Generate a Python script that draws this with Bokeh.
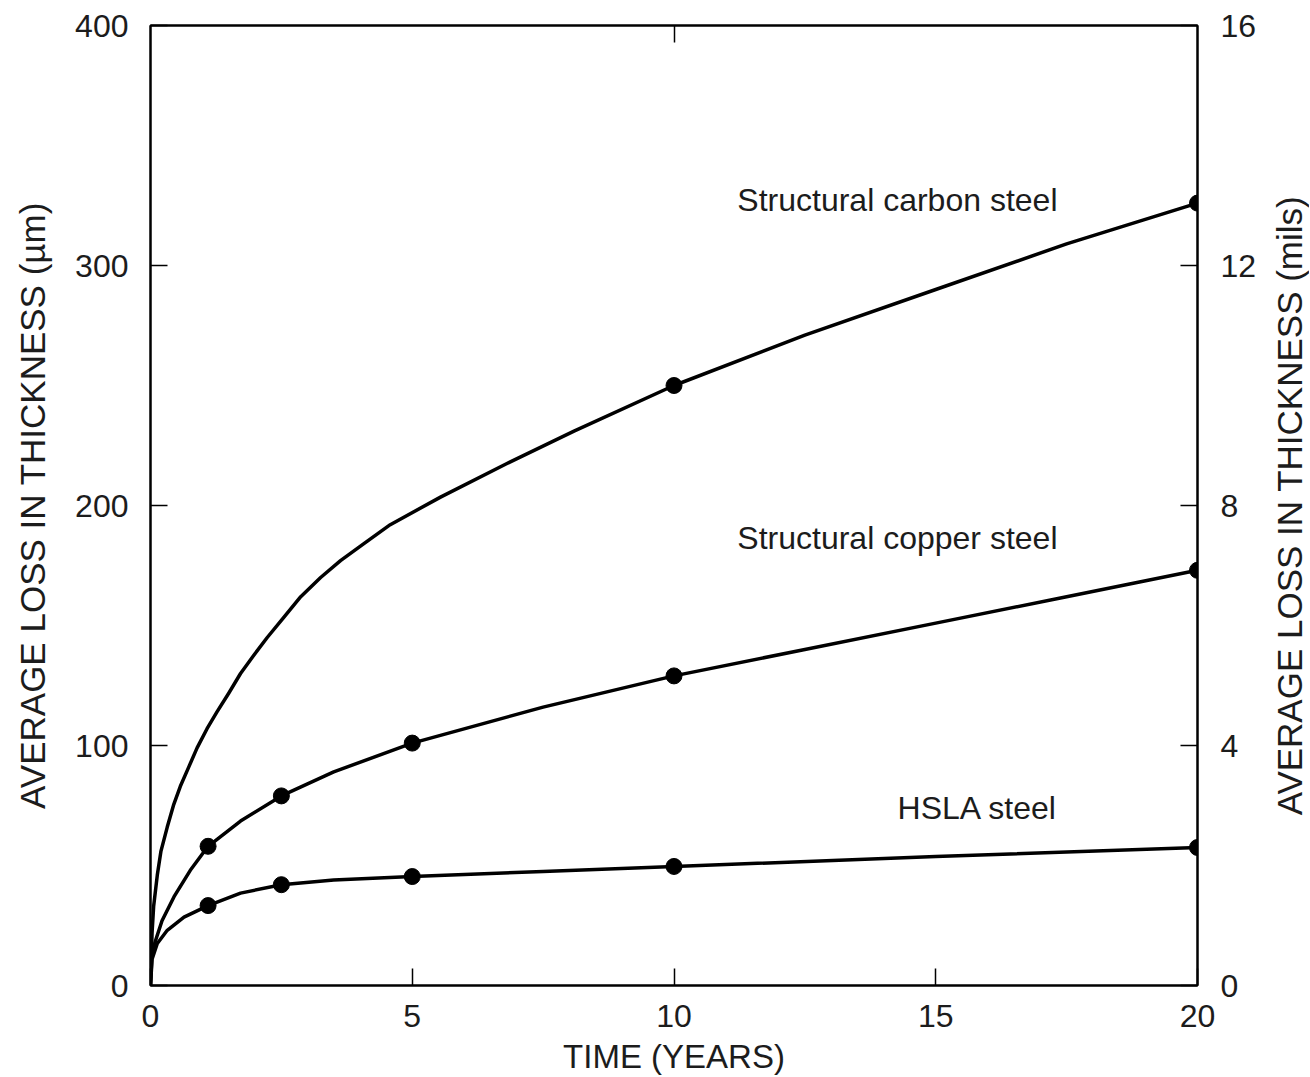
from math import pi
from bokeh.plotting import figure
from bokeh.layouts import row
from bokeh.models import Range1d, LinearAxis, FixedTicker, Label
from bokeh.core.properties import value
from bokeh.embed import file_html
from bokeh.resources import INLINE

# ---- data ----
# smooth curves (time in years, loss in micrometres)
carbon_t = [0, 0.03, 0.06, 0.13, 0.2, 0.32, 0.445, 0.57, 0.73, 0.89, 1.08, 1.27,
            1.5, 1.72, 1.97, 2.23, 2.55, 2.87, 3.25, 3.63, 4.07, 4.58, 5.54, 6.8,
            8.09, 10, 12.5, 15, 17.5, 20]
carbon_v = [0, 22, 33, 46, 56, 66, 75.5, 83, 91, 99, 107, 114,
            122, 130, 137.5, 145, 153.5, 162, 170, 177, 184, 192, 203.5, 217.4,
            231, 250, 271, 290, 309, 326]

copper_t = [0, 0.03, 0.1, 0.22, 0.45, 0.76, 1.1, 1.72, 2.5, 3.5, 5, 7.5,
            10, 12.5, 15, 17.5, 20]
copper_v = [0, 14, 19, 27, 37, 48, 58, 68.5, 79, 89, 101, 116,
            129, 140, 151, 162, 173]

hsla_t = [0, 0.03, 0.13, 0.32, 0.64, 1.1, 1.72, 2.5, 3.5, 5, 7.5, 10, 15, 20]
hsla_v = [0, 11, 17.5, 23, 28.5, 33.3, 38.5, 42, 44, 45.4, 47.5, 49.6, 53.7, 57.5]

# measured points (markers)
carbon_pts_t = [10, 20]
carbon_pts_v = [250, 326]
copper_pts_t = [1.1, 2.5, 5, 10, 20]
copper_pts_v = [58, 79, 101, 129, 173]
hsla_pts_t = [1.1, 2.5, 5, 10, 20]
hsla_pts_v = [33.3, 42, 45.4, 49.6, 57.5]

x_ticks = [0, 5, 10, 15, 20]
y_ticks = [0, 100, 200, 300, 400]
mils_ticks = [0, 4, 8, 12, 16]

labels = ["Structural carbon steel", "Structural copper steel", "HSLA steel"]
left_title = "AVERAGE LOSS IN THICKNESS (\u00b5m)"
right_title = "AVERAGE LOSS IN THICKNESS (mils)"
x_title = "TIME (YEARS)"

FONT = "Liberation Sans"
TXT = "#1c1c1c"
FS = "32px"

p = figure(frame_width=1047, frame_height=960,
           x_range=Range1d(0, 20), y_range=Range1d(0, 400),
           output_backend="svg", toolbar_location=None,
           min_border_left=150, min_border_top=25,
           min_border_right=60, min_border_bottom=88)
p.background_fill_color = "white"
p.border_fill_color = "white"
p.outline_line_color = "black"
p.outline_line_width = 2
p.xgrid.visible = False
p.ygrid.visible = False

p.extra_y_ranges = {"mils": Range1d(0, 16)}


def style_axis(ax, ticks):
    ax.ticker = FixedTicker(ticks=ticks)
    ax.minor_tick_line_color = None
    ax.major_tick_in = 17
    ax.major_tick_out = 0
    ax.major_tick_line_color = "black"
    ax.major_tick_line_width = 1.5
    ax.axis_line_color = "black"
    ax.axis_line_width = 2
    ax.major_label_text_font = FONT
    ax.major_label_text_font_size = FS
    ax.major_label_text_color = TXT
    ax.axis_label_text_font = FONT
    ax.axis_label_text_font_size = "33px"
    ax.axis_label_text_font_style = "normal"
    ax.axis_label_text_color = TXT


xa = p.xaxis[0]
style_axis(xa, x_ticks)
xa.axis_label = x_title
xa.major_label_standoff = 19
xa.axis_label_standoff = 8

ya = p.yaxis[0]
style_axis(ya, y_ticks)
ya.axis_label = left_title
ya.axis_label_text_font_size = "35px"
ya.major_label_standoff = 22
ya.axis_label_standoff = 20

# right axis: ticks and tick labels in mils
ra = LinearAxis(y_range_name="mils")
style_axis(ra, mils_ticks)
ra.major_label_standoff = 23
p.add_layout(ra, "right")

ta = LinearAxis()
style_axis(ta, [10])
ta.major_label_text_font_size = "1px"
ta.major_label_text_color = None
ta.major_label_standoff = 0
p.add_layout(ta, "above")

# curves
for t, v in [(carbon_t, carbon_v), (copper_t, copper_v), (hsla_t, hsla_v)]:
    p.line(t, v, line_color="black", line_width=3.5, line_join="round")

# markers
for t, v in [(carbon_pts_t, carbon_pts_v), (copper_pts_t, copper_pts_v),
             (hsla_pts_t, hsla_pts_v)]:
    p.scatter(t, v, marker="circle", size=16, fill_color="black", line_color="black")

# curve labels
for txt, x, y in [(labels[0], 11.21, 327.5), (labels[1], 11.21, 186.5),
                  (labels[2], 14.27, 74)]:
    p.add_layout(Label(x=x, y=y, text=txt, text_font=FONT, text_font_size=FS,
                       text_color=TXT, text_baseline="middle", text_align="left"))

# narrow companion panel holding the right-hand title (reads bottom to top)
p2 = figure(frame_width=50, frame_height=960,
            x_range=Range1d(0, 1), y_range=Range1d(0, 400),
            output_backend="svg", toolbar_location=None,
            x_axis_location=None, y_axis_location=None,
            min_border_left=0, min_border_right=0,
            min_border_top=25, min_border_bottom=88)
p2.outline_line_color = None
p2.xgrid.visible = False
p2.ygrid.visible = False
p2.background_fill_color = "white"
p2.border_fill_color = "white"
p2.text(x=[0.6], y=[200], text=[right_title], angle=pi / 2,
        text_font=value(FONT), text_font_size="35px", text_color=TXT,
        text_align="center", text_baseline="middle")

layout = row(p, p2)
open("out.html", "w").write(file_html(layout, INLINE))
